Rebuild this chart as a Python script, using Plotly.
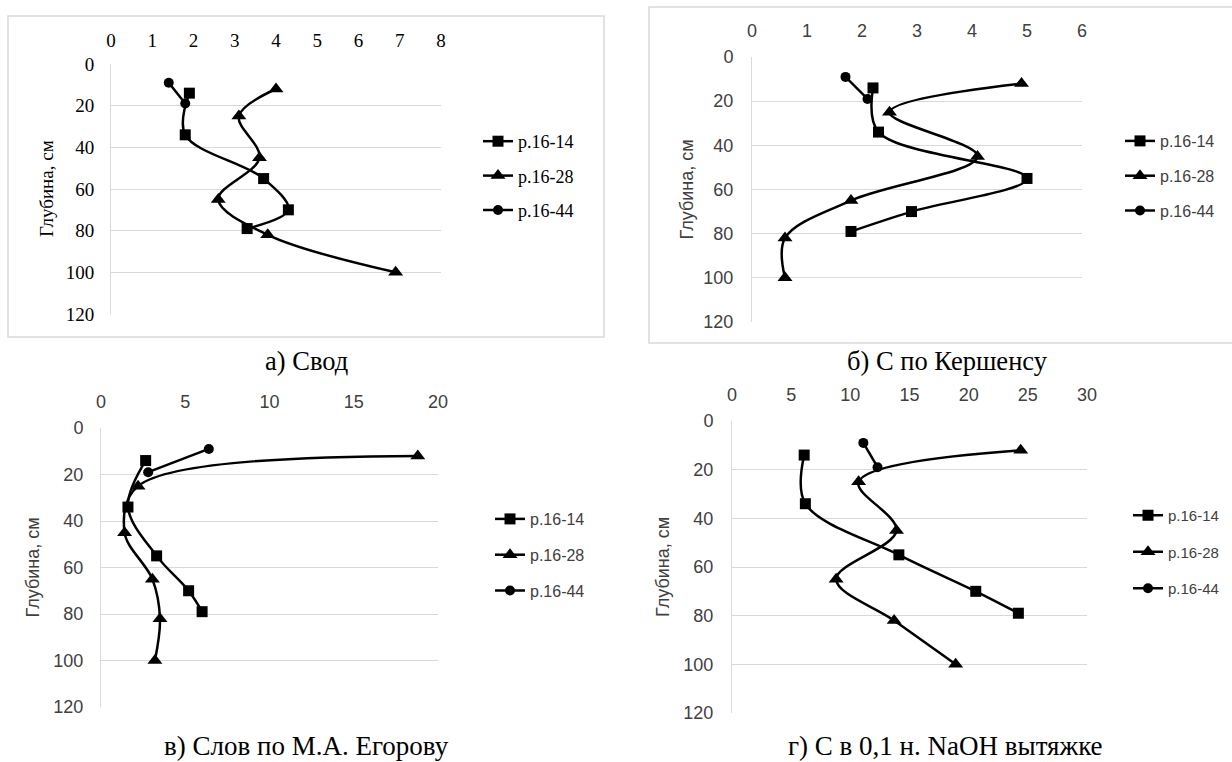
import plotly.graph_objects as go

W, H = 1232, 762

# ---- data ----
series_names = ["р.16-14", "р.16-28", "р.16-44"]
depth_14 = [14, 34, 55, 70, 79]
depth_28 = [12, 25, 45, 65, 82, 100]
depth_44 = [9, 19]

a_14 = [1.9, 1.8, 3.7, 4.3, 3.3]
a_28 = [4.0, 3.1, 3.6, 2.6, 3.8, 6.9]
a_44 = [1.4, 1.8]

b_14 = [2.2, 2.3, 5.0, 2.9, 1.8]
b_28 = [4.9, 2.5, 4.1, 1.8, 0.6, 0.6]
b_44 = [1.7, 2.1]

c_14 = [2.65, 1.6, 3.3, 5.2, 6.0]
c_28 = [18.8, 2.2, 1.4, 3.05, 3.5, 3.2]
c_44 = [6.4, 2.8]

d_14 = [6.1, 6.2, 14.1, 20.6, 24.2]
d_28 = [24.4, 10.7, 13.9, 8.8, 13.7, 18.9]
d_44 = [11.1, 12.3]

captions = ["а) Свод", "б) С по Кершенсу", "в) Слов по М.А. Егорову", "г) С в 0,1 н. NaOH вытяжке"]
y_title = "Глубина, см"
x_ranges = [(0, 8, 1), (0, 6, 1), (0, 20, 5), (0, 30, 5)]
y_range = (0, 120, 20)

SERIF = "Liberation Serif, Times New Roman, serif"
SANS = "Liberation Sans, Arial, sans-serif"

# panel geometry in pixels: x0, x1, y0(top), y1(bottom)
panels = [
    dict(box=(111, 441, 64, 314), font=SERIF, tick=19, leg=18, title=19, color="#000000",
         xstand=12, ystand=12, titlex=46, legx=478, legy=123, gap=8, cap=(306, 361), capsize=26.5),
    dict(box=(752, 1082, 57, 322), font=SANS, tick=18, leg=16, title=18, color="#404040",
         xstand=15, ystand=14, titlex=687, legx=1120, legy=124, gap=11, cap=(947, 361), capsize=26.5),
    dict(box=(101, 438, 428, 707), font=SANS, tick=18, leg=16, title=18, color="#404040",
         xstand=15, ystand=13, titlex=32, legx=490, legy=502, gap=12, cap=(306, 746), capsize=27),
    dict(box=(732, 1087, 421, 713), font=SANS, tick=18, leg=15, title=18, color="#404040",
         xstand=15, ystand=14, titlex=663, legx=1128, legy=499, gap=14, cap=(945, 746), capsize=27),
]
data = [(a_14, a_28, a_44), (b_14, b_28, b_44), (c_14, c_28, c_44), (d_14, d_28, d_44)]
depths = (depth_14, depth_28, depth_44)
symbols = ["square", "triangle-up", "circle"]
sizes = [11, 13, 10]

fig = go.Figure()
layout = dict(width=W, height=H, margin=dict(l=0, r=0, t=0, b=0, autoexpand=False),
              paper_bgcolor="white", plot_bgcolor="white", showlegend=True)
annotations = []
shapes = []

for i, p in enumerate(panels):
    n = "" if i == 0 else str(i + 1)
    x0, x1, y0, y1 = p["box"]
    xa = dict(domain=[x0 / W, x1 / W], range=[x_ranges[i][0], x_ranges[i][1]],
              dtick=x_ranges[i][2], tick0=0, side="top", showgrid=False, zeroline=False,
              showline=False, ticks="", ticklabelstandoff=p["xstand"], automargin=False,
              tickfont=dict(family=p["font"], size=p["tick"], color=p["color"]),
              anchor="y" + n, fixedrange=True)
    ya = dict(domain=[1 - y1 / H, 1 - y0 / H], range=[y_range[1], y_range[0]],
              dtick=y_range[2], tick0=0, showgrid=True, gridcolor="#d9d9d9", gridwidth=1,
              zeroline=False, showline=True, linecolor="#d9d9d9", linewidth=1, ticks="",
              ticklabelstandoff=p["ystand"], automargin=False,
              tickfont=dict(family=p["font"], size=p["tick"], color=p["color"]),
              anchor="x" + n, fixedrange=True)
    layout["xaxis" + n] = xa
    layout["yaxis" + n] = ya
    legname = "legend" + n
    layout[legname] = dict(x=p["legx"] / W, y=1 - p["legy"] / H, xanchor="left", yanchor="top",
                           font=dict(family=p["font"], size=p["leg"], color=p["color"]),
                           bgcolor="rgba(0,0,0,0)", tracegroupgap=p["gap"], itemwidth=30)
    for k in range(3):
        fig.add_trace(go.Scatter(
            x=data[i][k], y=depths[k], mode="lines+markers", name=series_names[k],
            line=dict(color="black", width=2.5, shape="spline", smoothing=1.0),
            marker=dict(symbol=symbols[k], size=sizes[k], color="black"),
            xaxis="x" + n, yaxis="y" + n, legend=legname, legendgroup=f"g{i}{k}",
            cliponaxis=False))
    annotations.append(dict(text=y_title, x=p["titlex"] / W, y=1 - ((y0 + y1) / 2) / H,
                            xref="paper", yref="paper", textangle=-90, showarrow=False,
                            xanchor="center", yanchor="middle",
                            font=dict(family=p["font"], size=p["title"], color=p["color"])))
    annotations.append(dict(text=captions[i], x=p["cap"][0] / W, y=1 - p["cap"][1] / H,
                            xref="paper", yref="paper", showarrow=False,
                            xanchor="center", yanchor="middle",
                            font=dict(family=SERIF, size=p["capsize"], color="black")))

shapes.append(dict(type="rect", xref="paper", yref="paper", x0=8 / W, x1=604 / W,
                   y0=1 - 337 / H, y1=1 - 16 / H, line=dict(color="#d9d9d9", width=1.5)))
shapes.append(dict(type="rect", xref="paper", yref="paper", x0=649 / W, x1=1250 / W,
                   y0=1 - 343 / H, y1=1 - 7 / H, line=dict(color="#d9d9d9", width=1.5)))

layout["annotations"] = annotations
layout["shapes"] = shapes
fig.update_layout(**layout)
fig.write_html("out.html", config={"displayModeBar": False},
               post_script="document.body.style.margin='0';document.body.style.overflow='hidden';")
